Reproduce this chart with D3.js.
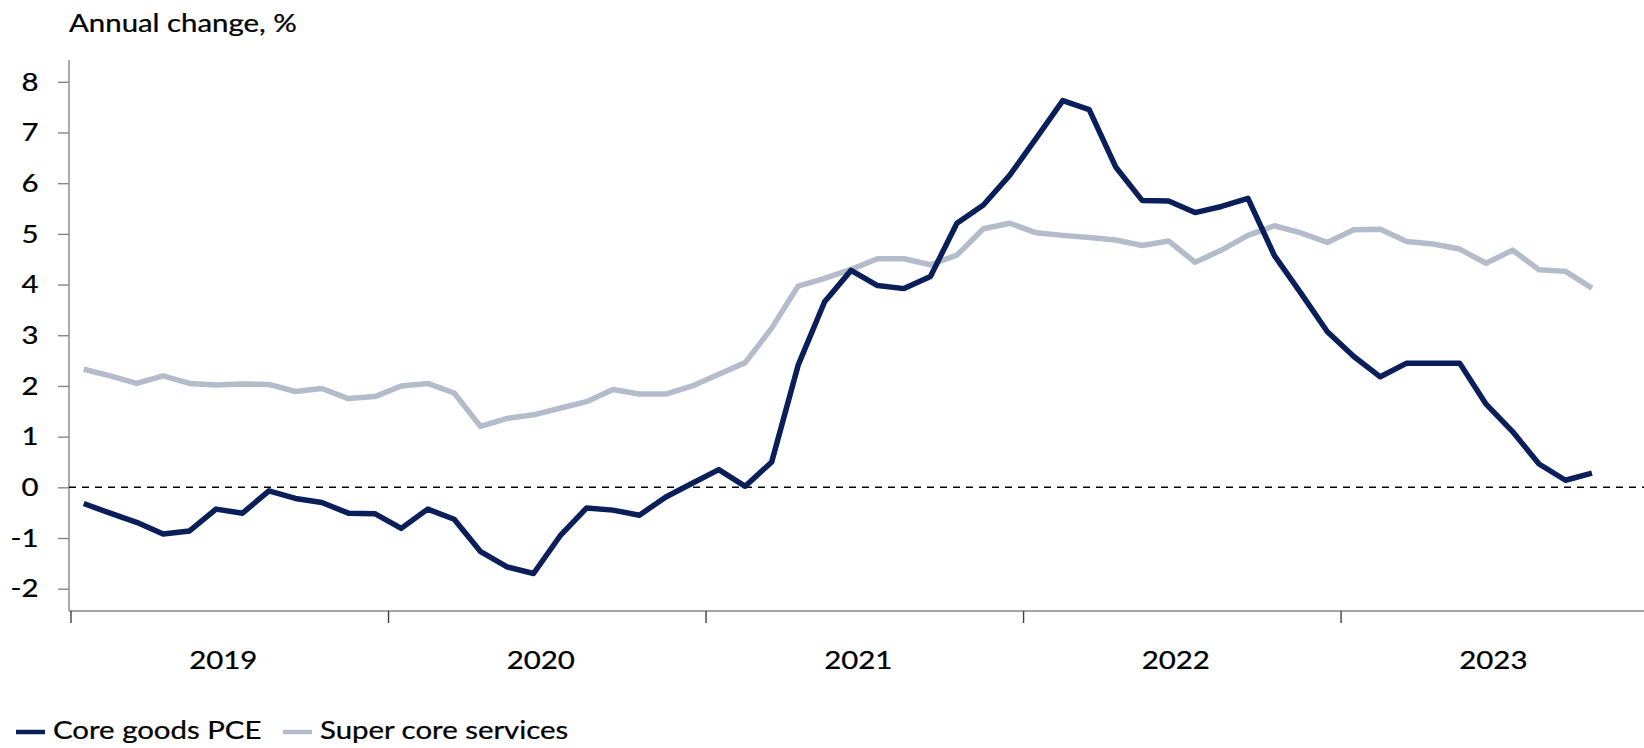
<!DOCTYPE html>
<html>
<head>
<meta charset="utf-8">
<script src="https://cdn.jsdelivr.net/npm/d3@7"></script>
<style>
  html, body { margin: 0; padding: 0; background: #ffffff; }
  svg { display: block; }
  text { font-family: Lato, "Open Sans", sans-serif; fill: #000; }
</style>
</head>
<body>
<svg id="chart" width="1644" height="748"></svg>
<script>
// Annual change (%) of core goods PCE vs super core services, monthly Jan 2019 – Oct 2023
const years = ["2019", "2020", "2021", "2022", "2023"];
const yTicks = [-2, -1, 0, 1, 2, 3, 4, 5, 6, 7, 8];
const seriesNames = ["Core goods PCE", "Super core services"];

const coreGoods = [
  -0.32, -0.51, -0.69, -0.92, -0.86, -0.43, -0.51, -0.07, -0.22, -0.30, -0.51, -0.52,
  -0.81, -0.43, -0.63, -1.27, -1.57, -1.70, -0.96, -0.41, -0.45, -0.55, -0.19, 0.08,
  0.35, 0.02, 0.50, 2.41, 3.66, 4.28, 3.98, 3.92, 4.16, 5.21, 5.57, 6.16,
  6.89, 7.63, 7.45, 6.32, 5.66, 5.65, 5.42, 5.54, 5.70, 4.57, 3.83, 3.07,
  2.58, 2.18, 2.45, 2.45, 2.45, 1.64, 1.10, 0.46, 0.14, 0.28
];
const superCore = [
  2.33, 2.20, 2.05, 2.20, 2.05, 2.02, 2.04, 2.03, 1.89, 1.95, 1.75, 1.79,
  2.00, 2.05, 1.86, 1.20, 1.36, 1.43, 1.56, 1.69, 1.93, 1.84, 1.84, 2.00,
  2.23, 2.46, 3.14, 3.97, 4.12, 4.30, 4.51, 4.51, 4.39, 4.58, 5.10, 5.21,
  5.02, 4.97, 4.93, 4.88, 4.77, 4.86, 4.44, 4.68, 4.97, 5.16, 5.02, 4.83,
  5.08, 5.09, 4.85, 4.80, 4.70, 4.42, 4.68, 4.29, 4.26, 3.93
];

const colors = ["#0a1f5a", "#b4bccc"];
const svg = d3.select("#chart");
const W = 1644, H = 748;
svg.append("rect").attr("width", W).attr("height", H).attr("fill", "#fff");

const stretch = 1.2;           // horizontal glyph stretch of all labels
const fontSize = 24.5;

// month index scale: 60 monthly slots for 2019–2023
const x = d3.scaleLinear().domain([0, years.length * 12]).range([70.5, 70.5 + 60 * 26.46]);
const y = d3.scaleLinear().domain([-2.44, 8.43]).range([611, 60]);

function label(g, tx, ty, str, anchor) {
  return g.append("text")
    .attr("transform", `translate(${tx},${ty}) scale(${stretch},1)`)
    .attr("text-anchor", anchor || "start")
    .attr("font-size", fontSize)
    .attr("stroke", "#000").attr("stroke-width", 0.25)
    .text(str);
}

// title
label(svg, 69, 32, "Annual change, %");

// y axis
const yAxis = svg.append("g").attr("transform", "translate(69,0)")
  .call(d3.axisLeft(y).tickValues(yTicks).tickSize(11).tickFormat(""));
yAxis.select(".domain").attr("d", `M0,${y.range()[1]}V${y.range()[0]}`);
yAxis.selectAll("path, line").attr("stroke", "#868686").attr("stroke-width", 1.4);
yTicks.forEach(v => {
  label(svg, 38.5, y(v) + 8.8, String(v), "end");
});

// x axis (year boundaries)
const xAxis = svg.append("g").attr("transform", "translate(0,611)")
  .call(d3.axisBottom(x).tickValues(d3.range(0, years.length * 12 + 1, 12)).tickSize(12).tickFormat(""));
xAxis.select(".domain").attr("d", `M69,0H${W}`).attr("stroke", "#868686").attr("stroke-width", 1.4);
xAxis.selectAll(".tick line").attr("stroke", "#404040").attr("stroke-width", 1.4);
years.forEach((yr, i) => {
  label(svg, x(i * 12 + 6) - 6, 669, yr, "middle");
});

// zero reference line
svg.append("line")
  .attr("x1", 69).attr("x2", W)
  .attr("y1", y(0)).attr("y2", y(0))
  .attr("stroke", "#000").attr("stroke-width", 1.6)
  .attr("stroke-dasharray", "7,6");

// series lines, drawn light first so the dark line sits on top
const line = d3.line().x((d, i) => x(i + 0.5)).y(d => y(d));
[superCore, coreGoods].forEach((vals, k) => {
  svg.append("path")
    .datum(vals)
    .attr("d", line)
    .attr("fill", "none")
    .attr("stroke", k === 0 ? colors[1] : colors[0])
    .attr("stroke-width", 5.5)
    .attr("stroke-linejoin", "round")
    .attr("stroke-linecap", "butt");
});

// legend
const legendX = [16, 283];
seriesNames.forEach((name, i) => {
  svg.append("line")
    .attr("x1", legendX[i]).attr("x2", legendX[i] + 29)
    .attr("y1", 732).attr("y2", 732)
    .attr("stroke", colors[i]).attr("stroke-width", 4.5);
  label(svg, legendX[i] + 37, 739, name);
});
</script>
</body>
</html>
